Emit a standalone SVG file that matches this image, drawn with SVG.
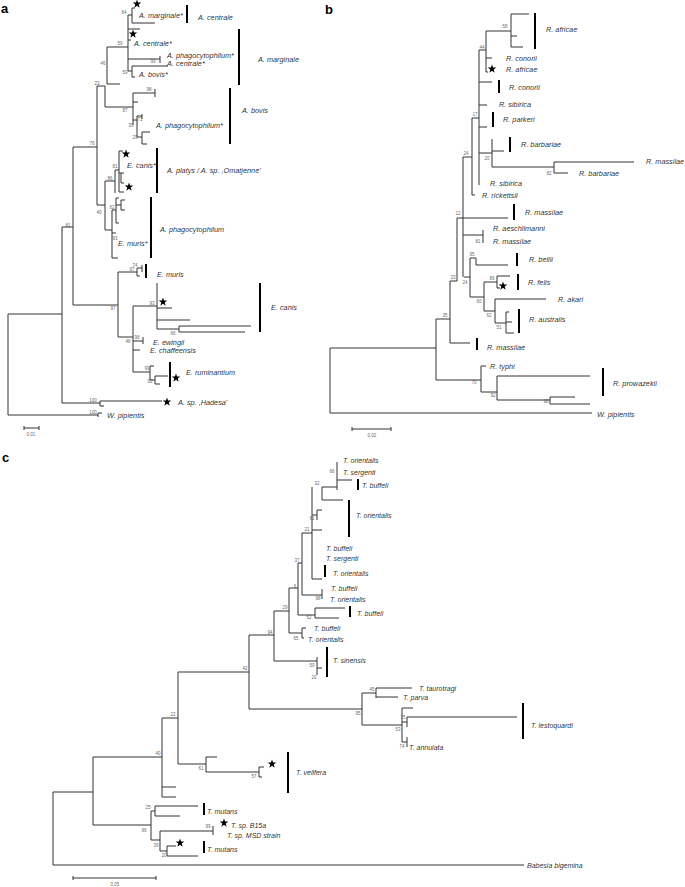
<svg xmlns="http://www.w3.org/2000/svg" width="685" height="887" viewBox="0 0 685 887">
<defs>
<style>
.br{fill:none;stroke:#333;stroke-width:1}
.bar{fill:none;stroke:#000;stroke-width:2}
.tx{font-family:"Liberation Sans",Arial,sans-serif;font-style:italic;font-size:7.3px;fill:#111;fill-opacity:0.92}
.tc{font-family:"Liberation Sans",Arial,sans-serif;font-style:italic;font-size:7px;fill:#111;fill-opacity:0.92}
.bs{font-family:"Liberation Sans",Arial,sans-serif;font-size:4.5px;fill:#555;fill-opacity:0.95;text-anchor:middle}
.pl{font-family:"Liberation Sans",Arial,sans-serif;font-weight:bold;font-size:13px;fill:#000}
.sc{fill:none;stroke:#333;stroke-width:1}
</style>
<polygon id="star" points="0,-4.5 1.06,-1.46 4.28,-1.39 1.71,0.56 2.65,3.64 0,1.8 -2.65,3.64 -1.71,0.56 -4.28,-1.39 -1.06,-1.46" fill="#000"/>
</defs>
<rect width="685" height="887" fill="#fff"/>

<!-- PANEL A -->
<g id="panel-a">
<text class="pl" x="1" y="13">a</text>
<g id="a-connectors" class="br">
<path d="M132 8V23M128 15H132M132 8H135M132 23H155M128 15V71M128 29H140M128 40H131M128 59H160M160 56V63M128 71H132M132 66V77M132 66H168M132 77H135M107 47H128M107 47V84M107 84H120M97 86V205M97 86H105M105 86V107M105 107H133"/>
<path d="M133 93V125M133 93H155M155 89V97M133 102H138M133 120H137M137 116V137M137 116H142M142 114V119M137 137H142M142 132V144M142 132H150M142 144H147"/>
<path d="M73 147V305M73 147H97M62 227H73M62 227V403M8 314H62M8 314V415M8 415H98M98 413V417M98 413H102M62 403H100M100 401V406M100 401H162M100 406H104"/>
<path d="M105 181V230M97 205H105M105 181H115M115 170V193M115 170H119M119 151V192M119 151H123M119 173H121M121 173V183M121 173H124M121 183H124M119 192H124"/>
<path d="M105 230H112M112 210V258M112 210H116M116 198V223M116 198H119M116 205H121M121 200V210M121 200H125M121 210H125M116 223H119M112 233H116M112 258H118"/>
<path d="M73 305H118M118 272V337M118 272H137M137 268V276M137 268H142M142 265V272M137 276H140"/>
<path d="M118 337H133M133 306V372M133 306H157M157 283V329M157 308H172M157 320H190M157 329H179M179 326V332M179 326H251M179 332H245"/>
<path d="M133 341H143M143 337V344M133 350H140M133 372H150M150 366V380M150 366H154M150 380H155M155 376V384M155 376H168M155 384H160"/>
</g>
<g id="a-stars">
<use href="#star" x="137" y="4"/><use href="#star" x="133" y="34"/><use href="#star" x="126" y="154"/><use href="#star" x="129" y="187"/><use href="#star" x="163" y="302"/><use href="#star" x="176" y="378"/><use href="#star" x="167" y="402"/>
</g>
<g id="a-bootstrap">
<text class="bs" x="124" y="13.5">84</text><text class="bs" x="120" y="44.5">59</text><text class="bs" x="153" y="62.5">99</text><text class="bs" x="125" y="73.5">59</text><text class="bs" x="103" y="64.5">46</text><text class="bs" x="97" y="84.5">23</text><text class="bs" x="149" y="90.5">98</text><text class="bs" x="125" y="111.5">87</text><text class="bs" x="140" y="120.5">71</text><text class="bs" x="131" y="126.5">30</text><text class="bs" x="135" y="138.5">29</text><text class="bs" x="92" y="144.5">76</text><text class="bs" x="115" y="167.5">81</text><text class="bs" x="110" y="179.5">86</text><text class="bs" x="99" y="213.5">40</text><text class="bs" x="112" y="208.5">62</text><text class="bs" x="115" y="239.5">93</text><text class="bs" x="68" y="226.5">81</text><text class="bs" x="135" y="266.5">74</text><text class="bs" x="132" y="270.5">97</text><text class="bs" x="113" y="309.5">97</text><text class="bs" x="152" y="304.5">93</text><text class="bs" x="173" y="334.5">66</text><text class="bs" x="137" y="338.5">98</text><text class="bs" x="128" y="342.5">48</text><text class="bs" x="147" y="369.5">99</text><text class="bs" x="150" y="382.5">93</text><text class="bs" x="93" y="401.5">100</text><text class="bs" x="93" y="413.5">100</text>
</g>
<g id="a-t-marginale-s"><text class="tx" x="139" y="17.5">A. marginale*</text></g>
<g id="a-g-centrale"><path class="bar" d="M187 5V23"/><text class="tx" x="198" y="19.5">A. centrale</text></g>
<g id="a-t-centrale-s1"><text class="tx" x="134" y="45.5">A. centrale*</text></g>
<g id="a-t-phago-s1"><text class="tx" x="167" y="57.5">A. phagocytophilum*</text></g>
<g id="a-t-centrale-s2"><text class="tx" x="167" y="66">A. centrale*</text></g>
<g id="a-t-bovis-s"><text class="tx" x="139" y="76.5">A. bovis*</text></g>
<g id="a-g-marginale"><path class="bar" d="M239 29V85"/><text class="tx" x="258" y="61.5">A. marginale</text></g>
<g id="a-t-phago-s2"><text class="tx" x="156" y="127.5">A. phagocytophilum*</text></g>
<g id="a-g-bovis"><path class="bar" d="M230 88V144"/><text class="tx" x="242" y="112.5">A. bovis</text></g>
<g id="a-t-canis-s"><text class="tx" x="127" y="167.5">E. canis*</text></g>
<g id="a-g-platys"><path class="bar" d="M157 148V193"/><text class="tx" x="167" y="172.5">A. platys / A. sp. ,Omatjenne'</text></g>
<g id="a-g-phago"><path class="bar" d="M151 197V258"/><text class="tx" x="160" y="231.5">A. phagocytophilum</text></g>
<g id="a-t-muris-s"><text class="tx" x="118" y="245.5">E. muris*</text></g>
<g id="a-g-muris"><path class="bar" d="M146 264V278"/><text class="tx" x="157" y="276.5">E. muris</text></g>
<g id="a-g-canis"><path class="bar" d="M260 283V332"/><text class="tx" x="271" y="309.5">E. canis</text></g>
<g id="a-t-ewingii"><text class="tx" x="153" y="344.5">E. ewingii</text></g>
<g id="a-t-chaff"><text class="tx" x="150" y="353">E. chaffeensis</text></g>
<g id="a-g-rumin"><path class="bar" d="M170 362V387"/><text class="tx" x="186" y="375">E. ruminantium</text></g>
<g id="a-t-hadesa"><text class="tx" x="178" y="405">A. sp. ,Hadesa'</text></g>
<g id="a-t-wpip"><text class="tx" x="107" y="418">W. pipientis</text></g>
<g id="a-scale"><path class="sc" d="M24 428H39M24 426V430M39 426V430"/><text class="bs" x="31" y="436">0.01</text></g>
</g>

<!-- PANEL B -->
<g id="panel-b">
<text class="pl" x="325" y="14">b</text>
<g id="b-connectors" class="br">
<path d="M511 14V47M511 14H529M511 36H517M511 47H523M486 31H511M486 31V72M479 50H486M486 58H492M486 72H488"/>
<path d="M479 50V185M479 82H492M479 105H487M479 127H487M479 153H492M472 118H479M492 139V167M492 151H504M492 167H554M554 162V173M554 162H634M554 173H568M472 118V195M472 195H475M463 157H472"/>
<path d="M463 157V277M457 218H508M457 218V281M463 235H483M483 230V243M464 277H470M470 258V297M470 258H476M476 258V265M476 265H508M470 297H484M484 282V311M484 282H497M497 276V288M497 276H510M497 288H500M484 311H495M495 299V323M495 299H546M495 323H506M506 312V333M506 322H512M506 333H514M506 312H509"/>
<path d="M450 281H457M450 281V343M450 343H470M436 319H450M436 319V380M330 348H436M330 348V413M330 413H592M436 380H481M481 366V392M481 366H486M481 392H497M497 376V400M497 376H590M497 400H550M550 397V404M550 397H575M550 404H590"/>
</g>
<g id="b-stars"><use href="#star" x="492" y="69"/><use href="#star" x="503" y="286"/></g>
<g id="b-bootstrap">
<text class="bs" x="505" y="27.5">58</text><text class="bs" x="482" y="48.5">44</text><text class="bs" x="475" y="115.5">17</text><text class="bs" x="466" y="154.5">24</text><text class="bs" x="487" y="159.5">20</text><text class="bs" x="549" y="174.5">82</text><text class="bs" x="458" y="214.5">12</text><text class="bs" x="478" y="242.5">81</text><text class="bs" x="472" y="255.5">95</text><text class="bs" x="492" y="279.5">89</text><text class="bs" x="453" y="278.5">33</text><text class="bs" x="465" y="283.5">24</text><text class="bs" x="479" y="302.5">60</text><text class="bs" x="489" y="316.5">62</text><text class="bs" x="445" y="316.5">35</text><text class="bs" x="499" y="328.5">51</text><text class="bs" x="474" y="384">70</text><text class="bs" x="493" y="397">92</text><text class="bs" x="546" y="403">98</text>
</g>
<g id="b-g-africae1"><path class="bar" d="M535 13V49"/><text class="tx" x="546" y="31.5">R. africae</text></g>
<g id="b-t-conorii1"><text class="tx" x="506" y="60.5">R. conorii</text></g>
<g id="b-t-africae2"><text class="tx" x="506" y="71.5">R. africae</text></g>
<g id="b-g-conorii2"><path class="bar" d="M499 80V93"/><text class="tx" x="509" y="89.5">R. conorii</text></g>
<g id="b-t-sibirica1"><text class="tx" x="499" y="106.5">R. sibirica</text></g>
<g id="b-g-parkeri"><path class="bar" d="M493 112V127"/><text class="tx" x="503" y="121.5">R. parkeri</text></g>
<g id="b-g-barbariae1"><path class="bar" d="M510 137V152"/><text class="tx" x="521" y="146.5">R. barbariae</text></g>
<g id="b-t-massilae1"><text class="tx" x="646" y="163.5">R. massilae</text></g>
<g id="b-t-barbariae2"><text class="tx" x="579" y="175.5">R. barbariae</text></g>
<g id="b-t-sibirica2"><text class="tx" x="490" y="185.5">R. sibirica</text></g>
<g id="b-t-rickettsii"><text class="tx" x="482" y="197.5">R. rickettsii</text></g>
<g id="b-g-massilae2"><path class="bar" d="M514 204V220"/><text class="tx" x="525" y="214.5">R. massilae</text></g>
<g id="b-t-aesch"><text class="tx" x="493" y="230.5">R. aeschlimanni</text></g>
<g id="b-t-massilae3"><text class="tx" x="493" y="243.5">R. massilae</text></g>
<g id="b-g-bellii"><path class="bar" d="M517 253V266"/><text class="tx" x="529" y="261.5">R. bellii</text></g>
<g id="b-g-felis"><path class="bar" d="M518 274V290"/><text class="tx" x="528" y="284.5">R. felis</text></g>
<g id="b-t-akari"><text class="tx" x="558" y="301.5">R. akari</text></g>
<g id="b-g-australis"><path class="bar" d="M519 309V333"/><text class="tx" x="529" y="321.5">R. australis</text></g>
<g id="b-g-massilae4"><path class="bar" d="M477 338V350"/><text class="tx" x="487" y="349.5">R. massilae</text></g>
<g id="b-t-typhi"><text class="tx" x="490" y="368.5">R. typhi</text></g>
<g id="b-g-prowazekii"><path class="bar" d="M603 368V396"/><text class="tx" x="613" y="385.5">R. prowazekii</text></g>
<g id="b-t-wpip"><text class="tx" x="597" y="416.5">W. pipientis</text></g>
<g id="b-scale"><path class="sc" d="M352 429H391M352 427V431M391 427V431"/><text class="bs" x="372" y="437">0.02</text></g>
</g>

<!-- PANEL C -->
<g id="panel-c">
<text class="pl" x="2" y="462">c</text>
<g id="c-connectors" class="br">
<path d="M337 462V490M337 480H352M322 487V500M322 487H337M322 500H343M312 487V579M317 510V520M317 510H322M312 515H317M312 530H322M312 579H322"/>
<path d="M302 533V595M302 533H312M302 595H322M322 589V599M298 563V615M298 563H302M298 615H315M315 608V618M315 608H345M315 618H339M289 588V633M289 588H298M289 633H302M302 628V638M302 628H306M302 638H304"/>
<path d="M274 611V661M274 611H289M274 661H317M317 657V675M317 668H322M249 635V709M249 635H274M249 709H362"/>
<path d="M362 693V725M362 693H376M376 688V698M376 688H412M376 697H398M362 725H402M402 708V742M402 708H413M402 722H407M407 717V727M407 717H517M402 742H407M407 737V747"/>
<path d="M178 672V764M178 672H249M178 764H206M206 757V772M206 757H217M206 772H259M259 767V777M259 767H264M259 777H262M162 718V797M162 718H178M162 787H176M162 797H176"/>
<path d="M93 757V825M93 757H162M93 825H151M151 811V840M151 811H155M155 806V816M155 806H198M155 816H180M151 840H160M160 831V851M160 831H213M213 826V835M160 851H167M167 846V856M167 846H176M167 856H198M53 792V865M53 792H93M53 865H524"/>
</g>
<g id="c-stars"><use href="#star" x="272" y="764"/><use href="#star" x="224" y="823"/><use href="#star" x="180" y="843"/></g>
<g id="c-bootstrap">
<text class="bs" x="332" y="472.5">66</text><text class="bs" x="317" y="484.5">32</text><text class="bs" x="312" y="519.5">61</text><text class="bs" x="307" y="530.5">21</text><text class="bs" x="297" y="561.5">37</text><text class="bs" x="295" y="587.5">6</text><text class="bs" x="318" y="599.5">98</text><text class="bs" x="309" y="618.5">52</text><text class="bs" x="285" y="608.5">29</text><text class="bs" x="270" y="633.5">94</text><text class="bs" x="296" y="639.5">65</text><text class="bs" x="312" y="666.5">59</text><text class="bs" x="314" y="678.5">20</text><text class="bs" x="245" y="669.5">42</text><text class="bs" x="372" y="690.5">45</text><text class="bs" x="358" y="714.5">95</text><text class="bs" x="403" y="718.5">75</text><text class="bs" x="398" y="730.5">53</text><text class="bs" x="402" y="747.5">74</text><text class="bs" x="173" y="715.5">22</text><text class="bs" x="201" y="769.5">61</text><text class="bs" x="254" y="777.5">57</text><text class="bs" x="158" y="754.5">40</text><text class="bs" x="148" y="808.5">25</text><text class="bs" x="144" y="831.5">96</text><text class="bs" x="208" y="827.5">99</text><text class="bs" x="156" y="846.5">39</text><text class="bs" x="164" y="856.5">20</text>
</g>
<g id="c-t-orient1"><text class="tc" x="343" y="462.5">T. orientalis</text></g>
<g id="c-t-serg1"><text class="tc" x="343" y="474.5">T. sergenti</text></g>
<g id="c-g-buff1"><path class="bar" d="M358 479V490"/><text class="tc" x="362" y="487.5">T. buffeli</text></g>
<g id="c-g-orient2"><path class="bar" d="M349 500V537"/><text class="tc" x="356" y="517.5">T. orientalis</text></g>
<g id="c-t-buff2"><text class="tc" x="326" y="550.5">T. buffeli</text></g>
<g id="c-t-serg2"><text class="tc" x="326" y="560.5">T. sergenti</text></g>
<g id="c-g-orient3"><path class="bar" d="M325 565V577"/><text class="tc" x="333" y="575.5">T. orientalis</text></g>
<g id="c-t-buff3"><text class="tc" x="331" y="590.5">T. buffeli</text></g>
<g id="c-t-orient4"><text class="tc" x="330" y="601.5">T. orientalis</text></g>
<g id="c-g-buff4"><path class="bar" d="M350 606V617"/><text class="tc" x="357" y="615.5">T. buffeli</text></g>
<g id="c-t-buff5"><text class="tc" x="314" y="630.5">T. buffeli</text></g>
<g id="c-t-orient5"><text class="tc" x="308" y="641.5">T. orientalis</text></g>
<g id="c-g-sinensis"><path class="bar" d="M327 647V677"/><text class="tc" x="333" y="662.5">T. sinensis</text></g>
<g id="c-t-tauro"><text class="tc" x="419" y="690.5">T. taurotragi</text></g>
<g id="c-t-parva"><text class="tc" x="403" y="699.5">T. parva</text></g>
<g id="c-g-lesto"><path class="bar" d="M523 703V739"/><text class="tc" x="531" y="727.5">T. lestoquardi</text></g>
<g id="c-t-annulata"><text class="tc" x="409" y="749.5">T. annulata</text></g>
<g id="c-g-velifera"><path class="bar" d="M288 752V793"/><text class="tc" x="296" y="774.5">T. velifera</text></g>
<g id="c-g-mutans1"><path class="bar" d="M204 803V815"/><text class="tc" x="207" y="813.5">T. mutans</text></g>
<g id="c-t-b15a"><text class="tc" x="231" y="827.5">T. sp. B15a</text></g>
<g id="c-t-msd"><text class="tc" x="227" y="837.5">T. sp. MSD strain</text></g>
<g id="c-g-mutans2"><path class="bar" d="M204 841V853"/><text class="tc" x="207" y="851.5">T. mutans</text></g>
<g id="c-t-babesia"><text class="tc" x="527" y="867.5">Babesia bigemina</text></g>
<g id="c-scale"><path class="sc" d="M73 878H156M73 876V880M156 876V880"/><text class="bs" x="115" y="886">0.05</text></g>
</g>
</svg>
